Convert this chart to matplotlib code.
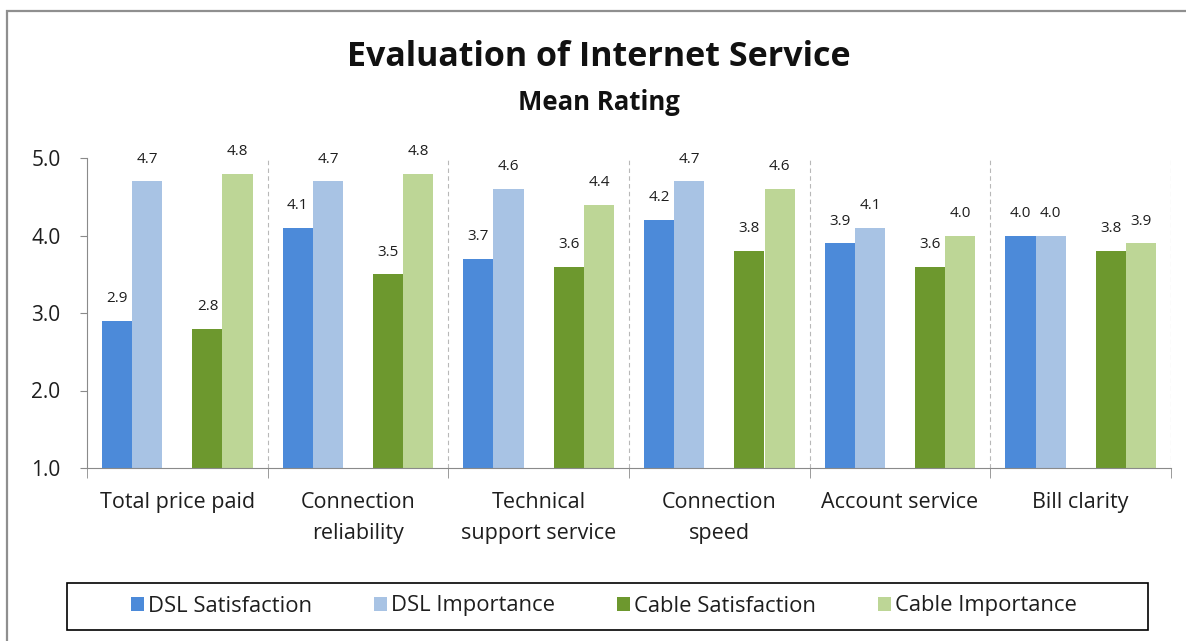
import numpy as np
import matplotlib.pyplot as plt
from matplotlib.patches import Rectangle, Patch

# mean ratings per service aspect
categories = ["Total price paid", "Connection\nreliability", "Technical\nsupport service",
              "Connection\nspeed", "Account service", "Bill clarity"]
dsl_satisfaction = [2.9, 4.1, 3.7, 4.2, 3.9, 4.0]
dsl_importance = [4.7, 4.7, 4.6, 4.7, 4.1, 4.0]
cable_satisfaction = [2.8, 3.5, 3.6, 3.8, 3.6, 3.8]
cable_importance = [4.8, 4.8, 4.4, 4.6, 4.0, 3.9]
series_names = ["DSL Satisfaction", "DSL Importance", "Cable Satisfaction", "Cable Importance"]
y_ticks = [1.0, 2.0, 3.0, 4.0, 5.0]

colors = ["#4C8AD9", "#A8C3E4", "#6D982E", "#BDD696"]
text_color = "#1e1e1e"
axis_color = "#8a8a8a"

plt.rcParams['font.family'] = ['Open Sans', 'DejaVu Sans']

W, H = 1186, 641
fig = plt.figure(figsize=(W / 100, H / 100), dpi=100)
# chart frame (runs off the right and bottom edges)
fig.patches.append(Rectangle((7 / W, -0.1), 1.2, 1 - 11 / H + 0.1,
                             transform=fig.transFigure, fill=False,
                             edgecolor="#8f8f8f", lw=1.6))

ax = fig.add_axes([87 / W, 1 - 468 / H, 1084 / W, 310 / H])

x = np.arange(len(categories))
w = 1 / 6
series = [dsl_satisfaction, dsl_importance, cable_satisfaction, cable_importance]
offsets = [-2 * w, -w, w, 2 * w]

for vals, off, col in zip(series, offsets, colors):
    bars = ax.bar(x + off, vals, width=w, color=col, edgecolor="none", zorder=2)
    for b, v in zip(bars, vals):
        ax.annotate(f"{v:.1f}", (b.get_x() + b.get_width() / 2, v),
                    xytext=(0, 16), textcoords="offset points",
                    ha="center", va="center", fontsize=11, color=text_color)

# dashed separators between groups
for bx in np.arange(0.5, len(categories), 1.0):
    ax.axvline(bx, ymin=0, ymax=1, color="#b8b8b8", lw=0.8,
               linestyle=(0, (4, 3)), zorder=1)

ax.set_xlim(-0.5, len(categories) - 0.5)
ax.set_ylim(1, 5)
ax.set_yticks(y_ticks)
ax.set_yticklabels([f"{t:.1f}" for t in y_ticks], fontsize=15, color=text_color)
ax.set_xticks(x)
ax.set_xticklabels(categories, fontsize=15.5, color=text_color, linespacing=1.62)
ax.set_xticks(np.arange(-0.5, len(categories), 1.0), minor=True)
ax.tick_params(axis="x", which="major", length=0, pad=17)
ax.tick_params(axis="x", which="minor", length=7, direction="out", color=axis_color)
ax.tick_params(axis="y", length=5, direction="out", color=axis_color, pad=14)

for s in ["top", "right"]:
    ax.spines[s].set_visible(False)
for s in ["left", "bottom"]:
    ax.spines[s].set_color(axis_color)

fig.text(0.505, 1 - 57 / H, "Evaluation of Internet Service", ha="center", va="center",
         fontsize=24.5, fontweight="bold", color="#111111")
fig.text(0.505, 1 - 102 / H, "Mean Rating", ha="center", va="center",
         fontsize=18.5, fontweight="bold", color="#111111")

# legend entries without frame, box drawn separately
handles = [Patch(facecolor=c, edgecolor="none") for c in colors]
leg = fig.legend(handles, series_names, loc="center", bbox_to_anchor=(604 / W, 1 - 606 / H),
                 ncol=4, frameon=False, fontsize=15.8,
                 handlelength=0.6, handleheight=0.6, handletextpad=0.2,
                 columnspacing=2.8)
for t in leg.get_texts():
    t.set_color(text_color)
fig.patches.append(Rectangle((67 / W, 1 - 630 / H), (1148 - 67) / W, 47 / H,
                             transform=fig.transFigure, fill=False,
                             edgecolor="black", lw=1.2))

fig.savefig("out.png", dpi=100)
